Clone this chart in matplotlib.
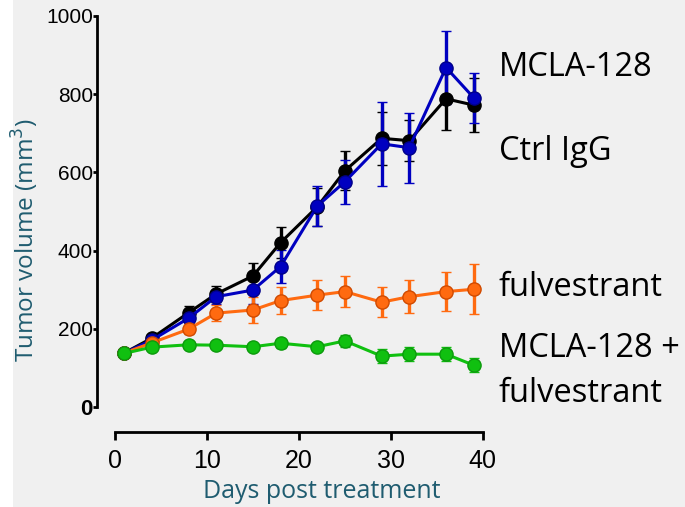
import matplotlib
matplotlib.use("Agg")
import matplotlib.pyplot as plt
from matplotlib.patches import Rectangle

# data
days = [1, 4, 8, 11, 15, 18, 22, 25, 29, 32, 36, 39]

ctrl = [138, 176, 241, 289, 335, 420, 512, 604, 687, 681, 788, 772]
ctrl_err = [6, 8, 17, 20, 32, 39, 48, 50, 68, 53, 79, 70]

mcla = [138, 171, 227, 282, 299, 359, 514, 576, 673, 663, 868, 791]
mcla_err = [6, 8, 12, 18, 35, 43, 52, 56, 107, 89, 93, 64]

fulv = [138, 164, 199, 240, 248, 272, 286, 295, 268, 282, 295, 301]
fulv_err = [5, 7, 12, 20, 33, 35, 38, 40, 39, 42, 50, 64]

combo = [137, 153, 159, 158, 154, 163, 154, 169, 130, 135, 135, 107]
combo_err = [5, 6, 7, 7, 7, 12, 8, 15, 18, 18, 18, 18]

labels = ["MCLA-128", "Ctrl IgG", "fulvestrant", "MCLA-128 +\nfulvestrant"]

bg = "#f0f0f0"
teal = "#1f5c70"
txt_font = ["Open Sans", "DejaVu Sans"]
tick_font = "Liberation Sans"

fig = plt.figure(figsize=(6.85, 5.07), dpi=100, facecolor=bg)
fig.patches.append(Rectangle((0, 0), 13 / 685, 1, transform=fig.transFigure,
                             facecolor="white", edgecolor="none", zorder=-1))
ax = fig.add_axes([97 / 685, 75 / 507, 395 / 685, 420 / 507])
ax.set_facecolor(bg)

series = [
    (ctrl, ctrl_err, "#000000", "#000000"),
    (mcla, mcla_err, "#0000c0", "#00008a"),
    (fulv, fulv_err, "#ff6a10", "#d04a00"),
    (combo, combo_err, "#10c010", "#0c9a0c"),
]
for vals, errs, col, edge in series:
    ax.errorbar(days, vals, yerr=errs, color=col, lw=2.2, elinewidth=2.4,
                capsize=3.5, capthick=2.4, marker="o", markersize=9.5,
                markerfacecolor=col, markeredgecolor=edge, markeredgewidth=1)

ax.set_xlim(-1.96, 41)
ax.set_ylim(-64, 1010)
ax.spines["top"].set_visible(False)
ax.spines["right"].set_visible(False)
ax.spines["left"].set_bounds(0, 1000)
ax.spines["bottom"].set_bounds(0, 40)
ax.spines["left"].set_linewidth(2)
ax.spines["bottom"].set_linewidth(2)

ax.set_xticks([0, 10, 20, 30, 40])
ax.set_yticks([0, 200, 400, 600, 800, 1000])
ax.tick_params(axis="x", length=6, width=2, labelsize=18, pad=6)
ax.tick_params(axis="y", length=3, width=2, labelsize=15, pad=0)
for t in ax.get_xticklabels() + ax.get_yticklabels():
    t.set_family(tick_font)
for t in ax.get_yticklabels():
    if t.get_text() == "0":
        t.set_fontweight("bold")
        t.set_fontsize(16)

fig.text(322 / 685, 1 - 492 / 507, "Days post treatment", color=teal,
         fontsize=18, family=txt_font, ha="center", va="center")
fig.text(25 / 685, 1 - 240 / 507, "Tumor volume (mm$^3$)", color=teal,
         fontsize=17.5, family=txt_font, ha="center", va="center", rotation=90)

label_y = [68, 152, 287, 371]
for lab, yp in zip(labels, label_y):
    fig.text(499 / 685, 1 - yp / 507, lab, fontsize=23.5, family=txt_font,
             ha="left", va="center", linespacing=1.45)

fig.savefig("out.png", dpi=100, facecolor=bg)
